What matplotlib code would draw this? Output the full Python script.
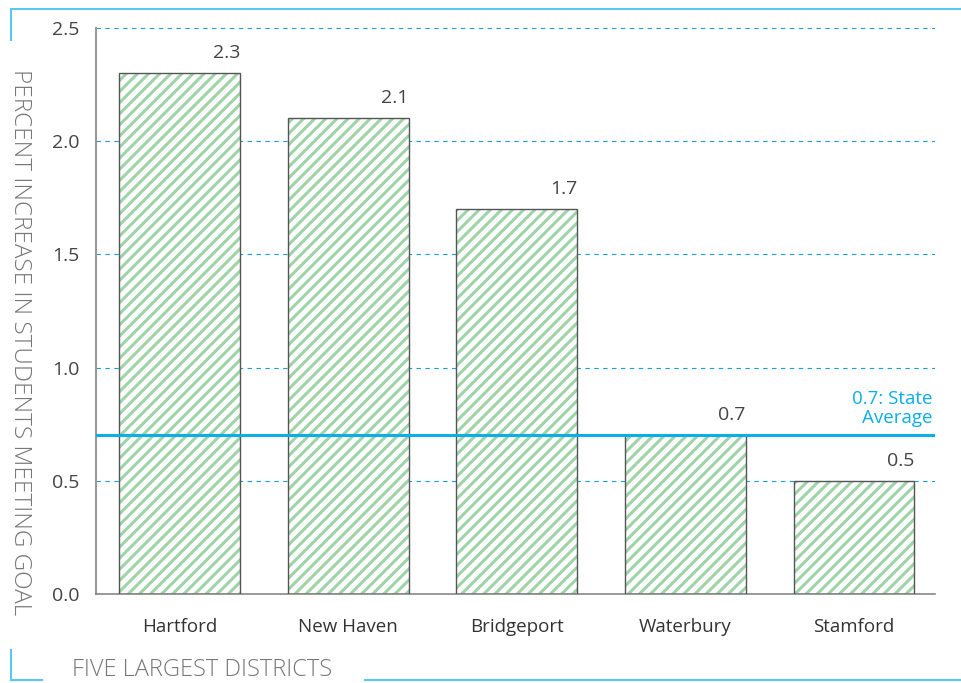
import matplotlib.pyplot as plt
from matplotlib.lines import Line2D

districts = ['Hartford', 'New Haven', 'Bridgeport', 'Waterbury', 'Stamford']
increase = [2.3, 2.1, 1.7, 0.7, 0.5]
state_average = 0.7
y_ticks = [0.0, 0.5, 1.0, 1.5, 2.0, 2.5]

plt.rcParams['font.family'] = ['Open Sans', 'DejaVu Sans']
plt.rcParams['hatch.linewidth'] = 2.2
plt.rcParams['hatch.color'] = '#9fd3a8'

fig = plt.figure(figsize=(9.61, 6.83), dpi=100)
ax = fig.add_axes([0.0999, 0.1303, 0.873, 0.829])

x = list(range(len(districts)))
ax.bar(x, increase, width=0.717, color='white', edgecolor='#9fd3a8',
       hatch='///', linewidth=0, zorder=2)
ax.bar(x, increase, width=0.717, fill=False, edgecolor='#555555',
       linewidth=1.0, zorder=3)

for xi, v in zip(x, increase):
    ax.annotate(f'{v:.1f}', xy=(xi + 0.717 / 2, v), xytext=(0, 8),
                textcoords='offset points', ha='right', va='bottom',
                fontsize=14, color='#444444')

ax.axhline(state_average, color='#0aaee8', linewidth=2.2, zorder=4)
ax.annotate('0.7: State\nAverage', xy=(0.997, state_average),
            xycoords=ax.get_yaxis_transform(), xytext=(0, 6),
            textcoords='offset points', ha='right', va='bottom',
            fontsize=13.5, color='#0aaee8', linespacing=1.05)

ax.set_xlim(-0.495, 4.48)
ax.set_ylim(0, 2.5)
ax.set_yticks(y_ticks)
ax.set_yticklabels([f'{t:.1f}' for t in y_ticks], fontsize=14, color='#444444')
ax.set_xticks(x)
ax.set_xticklabels(districts, fontsize=13.5, color='#333333')
ax.tick_params(axis='y', length=0, pad=12)
ax.tick_params(axis='x', length=0, pad=17)

for t in y_ticks[1:]:
    ax.axhline(t, color='#1a9fd9', linewidth=0.8, linestyle=(0, (4, 4)), zorder=1)

for s in ['top', 'right']:
    ax.spines[s].set_visible(False)
ax.spines['left'].set_color('#999999')
ax.spines['left'].set_linewidth(1.5)
ax.spines['bottom'].set_color('#888888')
ax.spines['bottom'].set_linewidth(1.2)

fig.text(0.021, 0.499, 'PERCENT INCREASE IN STUDENTS MEETING GOAL', rotation=270,
         ha='center', va='center', fontsize=17.5, color='#777777',
         family=['Open Sans', 'DejaVu Sans'], fontweight='light')
fig.text(0.075, 0.019, 'FIVE LARGEST DISTRICTS', ha='left', va='center',
         fontsize=17, color='#777777', family=['Open Sans', 'DejaVu Sans'],
         fontweight='light')

frame = '#5cc6ee'
fig.add_artist(Line2D([0.0114, 1.0], [0.9868, 0.9868], color=frame, lw=1.5))
fig.add_artist(Line2D([0.0114, 0.0114], [0.9868, 0.9414], color=frame, lw=1.5))
fig.add_artist(Line2D([0.0114, 0.0114], [0.0483, 0.0044], color=frame, lw=1.5))
fig.add_artist(Line2D([0.0114, 0.0437], [0.0044, 0.0044], color=frame, lw=1.5))
fig.add_artist(Line2D([0.38, 1.0], [0.0044, 0.0044], color=frame, lw=1.5))

fig.savefig('out.png', dpi=100)
